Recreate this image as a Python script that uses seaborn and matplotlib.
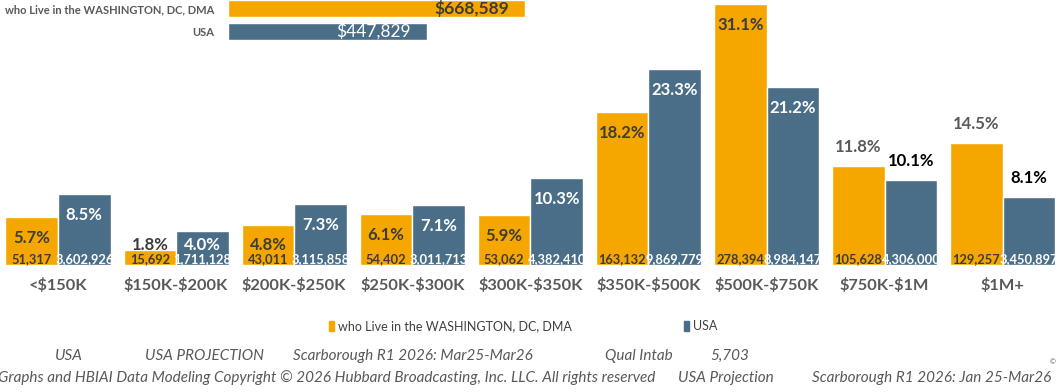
import seaborn as sns
import matplotlib.pyplot as plt
import matplotlib.patches as mpatches
from matplotlib.transforms import Bbox, TransformedBbox
import pandas as pd

# data
categories = ['<$150K', '$150K-$200K', '$200K-$250K', '$250K-$300K', '$300K-$350K',
              '$350K-$500K', '$500K-$750K', '$750K-$1M', '$1M+']
dma_pct = [5.7, 1.8, 4.8, 6.1, 5.9, 18.2, 31.1, 11.8, 14.5]
usa_pct = [8.5, 4.0, 7.3, 7.1, 10.3, 23.3, 21.2, 10.1, 8.1]
dma_count = ['51,317', '15,692', '43,011', '54,402', '53,062', '163,132', '278,394', '105,628', '129,257']
usa_count = ['3,602,926', '1,711,128', '3,115,858', '3,011,713', '4,382,410', '9,869,779',
             '8,984,147', '4,306,000', '3,450,897']
series = ['who Live in the WASHINGTON, DC, DMA', 'USA']
median_value = [668589, 447829]

ORANGE = '#F5A700'
BLUE = '#4A6E88'
GRAY = '#595959'

sns.set_style('white')
plt.rcParams['font.family'] = ['Lato', 'DejaVu Sans']
plt.rcParams['text.parse_math'] = False  # dollar signs are plain text here

df = pd.DataFrame({
    'category': categories * 2,
    'pct': dma_pct + usa_pct,
    'series': [series[0]] * len(categories) + [series[1]] * len(categories),
})

fig = plt.figure(figsize=(10.57, 3.92), dpi=100)
ax = fig.add_axes([0, 127 / 392, 1, 265 / 392])
sns.barplot(data=df, x='category', y='pct', hue='series', palette=[ORANGE, BLUE],
            saturation=1, width=0.89, gap=0, ax=ax, legend=True)
ax.set_xlim(-0.491, 8.459)
ax.set_ylim(0, 31.55)
ax.set_xlabel('')
ax.set_ylabel('')
ax.set_yticks([])
sns.despine(ax=ax, left=True, bottom=True, top=True, right=True)
ax.tick_params(axis='x', length=0, pad=9)
for t in ax.get_xticklabels():
    t.set_fontsize(11.8)
    t.set_color(GRAY)
    t.set_fontweight('bold')

counts = [dma_count, usa_count]
for s, cont in enumerate(ax.containers):
    for i, bar in enumerate(cont.patches):
        h = bar.get_height()
        cx = bar.get_x() + bar.get_width() / 2
        outside = i >= 7
        if outside:
            y = h + 2.3
            col = GRAY if s == 0 else 'black'
        else:
            y = max(h - 2.5, 2.4)
            col = '#3C3C3C' if s == 0 else 'white'
        ax.text(cx, y, f'{h:.1f}%', ha='center', va='center', fontsize=12,
                fontweight='bold', color=col)
        t = ax.text(cx, 0.75, counts[s][i], ha='center', va='center', fontsize=9.3,
                    fontweight='bold', color='#3C3C3C' if s == 0 else 'white')
        t.set_clip_path(bar)

# legend
handles = [mpatches.Patch(color=ORANGE), mpatches.Patch(color=BLUE)]
ax.legend(handles, series, loc='center', bbox_to_anchor=(0.495, 66 / 392),
          bbox_transform=fig.transFigure, ncol=2, frameon=False, handlelength=0.4,
          handleheight=0.9, handletextpad=0.3, columnspacing=9,
          prop={'size': 9}, labelcolor='#404040')

# median value inset at the top
ax2 = fig.add_axes([228 / 1057, 1 - 43 / 392, 311 / 1057, 46 / 392])
sns.barplot(x=median_value, y=series, hue=series, palette=[ORANGE, BLUE], saturation=1,
            width=0.74, ax=ax2, legend=False, orient='h')
ax2.set_xlim(0, 700000)
ax2.set_ylim(1.5, -0.5)
ax2.set_xticks([])
ax2.set_xlabel('')
ax2.set_ylabel('')
sns.despine(ax=ax2, left=True, bottom=True)
ax2.tick_params(axis='y', length=0, pad=10)
for t in ax2.get_yticklabels():
    t.set_fontsize(8)
    t.set_color(GRAY)
    t.set_fontweight('bold')
ax2.text(median_value[0] - 36000, 0, f'${median_value[0]:,}', ha='right', va='center',
         fontsize=12.5, fontweight='bold', color='#3C3C3C')
ax2.text(median_value[1] - 36000, 1, f'${median_value[1]:,}', ha='right', va='center',
         fontsize=12.5, color='white')

# footer
foot = {'style': 'italic', 'color': GRAY, 'fontsize': 11}
y1 = 1 - 356 / 392
for x, s in [(55, 'USA'), (145, 'USA PROJECTION'), (293, 'Scarborough R1 2026: Mar25-Mar26'),
             (605, 'Qual Intab'), (710, '5,703')]:
    fig.text(x / 1057, y1, s, va='center', **foot)
y2 = 1 - 378 / 392
t = fig.text(-0.002, y2, 'Graphs and HBIAI Data Modeling Copyright © 2026 Hubbard Broadcasting, '
             'Inc. LLC. All rights reserved', va='center', **foot)
t.set_clip_box(TransformedBbox(Bbox([[0, 0], [655 / 1057, 1]]), fig.transFigure))
fig.text(678 / 1057, y2, 'USA Projection', va='center', **foot)
fig.text(812 / 1057, y2, 'Scarborough R1 2026: Jan 25-Mar26', va='center', **foot)
fig.text(1050 / 1057, 1 - 362 / 392, '©', va='center', fontsize=5, color=GRAY)

fig.savefig('out.png', dpi=100)
